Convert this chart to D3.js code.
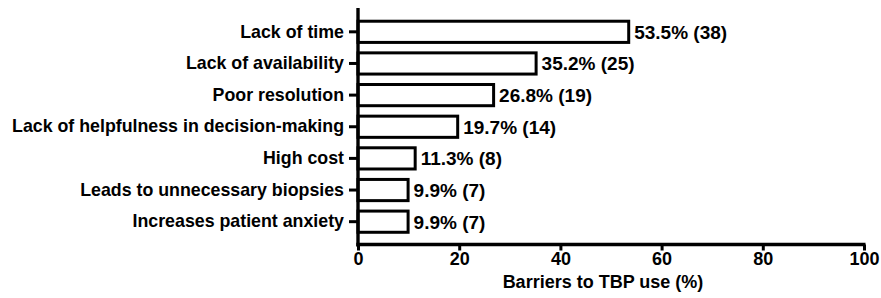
<!DOCTYPE html>
<html><head><meta charset="utf-8">
<script src="https://cdn.jsdelivr.net/npm/d3@7"></script>
<style>body{margin:0;background:#fff}text{font-family:"Liberation Sans",Arial,sans-serif;font-weight:bold}</style>
</head><body><svg id="c" width="881" height="298"></svg>
<script>
const categories=["Lack of time","Lack of availability","Poor resolution","Lack of helpfulness in decision-making","High cost","Leads to unnecessary biopsies","Increases patient anxiety"];
const percents=[53.5,35.2,26.8,19.7,11.3,9.9,9.9];
const counts=[38,25,19,14,8,7,7];
const xTicks=[0,20,40,60,80,100];
const xTitle="Barriers to TBP use (%)";

const svg=d3.select("#c");
const x=d3.scaleLinear().domain([0,100]).range([358,864]);
const y=d3.scaleBand().domain(categories).range([16,237.5]).paddingInner(0.33).paddingOuter(0.165);
const g=svg.append("g");
g.selectAll("rect.bar").data(categories).join("rect")
 .attr("x",x(0)).attr("y",d=>y(d)).attr("height",y.bandwidth())
 .attr("width",(d,i)=>x(percents[i])-x(0))
 .attr("fill","#fff").attr("stroke","#000").attr("stroke-width",3);
g.selectAll("text.val").data(categories).join("text")
 .attr("x",(d,i)=>x(percents[i])+5.5).attr("y",d=>y(d)+y.bandwidth()/2)
 .attr("dy","0.36em").attr("font-size",19).text((d,i)=>percents[i].toFixed(1)+"% ("+counts[i]+")");
const ya=svg.append("g").attr("transform",`translate(${x(0)},0)`).call(d3.axisLeft(y).tickSize(9).tickPadding(5));
ya.select(".domain").remove();
ya.selectAll(".tick line").attr("stroke-width",3);
ya.selectAll(".tick text").attr("font-size",17.8).attr("font-family","Liberation Sans, Arial, sans-serif").attr("font-weight","bold").attr("fill","#000");
svg.append("line").attr("x1",x(0)).attr("x2",x(0)).attr("y1",8).attr("y2",246.5).attr("stroke","#000").attr("stroke-width",3.4);
const xa=svg.append("g").attr("transform","translate(0,244.5)").call(d3.axisBottom(x).tickValues(xTicks).tickSize(6).tickPadding(2).tickSizeOuter(0));
xa.select(".domain").remove();
xa.selectAll(".tick line").attr("stroke-width",3);
xa.selectAll(".tick text").attr("font-size",18).attr("font-family","Liberation Sans, Arial, sans-serif").attr("font-weight","bold").attr("fill","#000");
svg.append("line").attr("x1",x(0)-1.7).attr("x2",x(100)+1.5).attr("y1",244.5).attr("y2",244.5).attr("stroke","#000").attr("stroke-width",3.4);
svg.append("text").attr("x",(x(0)+x(100))/2-8).attr("y",288).attr("text-anchor","middle").attr("font-size",18).text(xTitle);
</script></body></html>
